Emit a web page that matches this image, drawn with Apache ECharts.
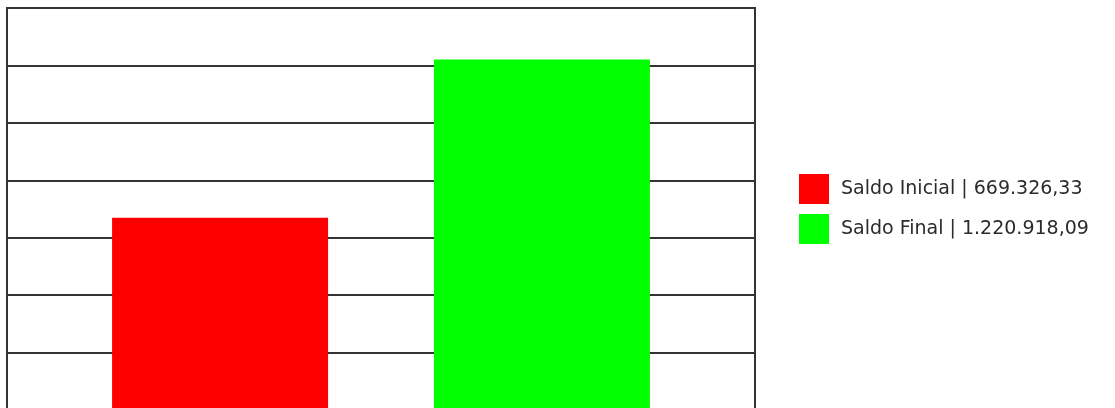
<!DOCTYPE html>
<html>
<head>
    <meta charset="utf-8">
    <title>Saldo</title>
    <script src="https://cdn.jsdelivr.net/npm/echarts@6/dist/echarts.min.js"></script>
    <style>
        html, body { margin: 0; padding: 0; background: #fff; }
        #chart { width: 1115px; height: 408px; }
    </style>
</head>
<body>
<div id="chart"></div>
<script type="text/javascript">
    // dados do gráfico
    var categorias = [''];
    var nomesSeries = ['Saldo Inicial', 'Saldo Final'];
    var saldoInicial = [669326.33];
    var saldoFinal = [1220918.09];
    var eixoMin = 0;
    var eixoMax = 1400000;
    var eixoIntervalo = 200000;

    // formata 1234567.8 -> 1.234.567,80
    function formataBR(v) {
        var partes = v.toFixed(2).split('.');
        var inteiro = partes[0].replace(/\B(?=(\d{3})+(?!\d))/g, '.');
        return inteiro + ',' + partes[1];
    }

    var valores = {};
    valores[nomesSeries[0]] = saldoInicial[0];
    valores[nomesSeries[1]] = saldoFinal[0];

    var myChart = echarts.init(document.getElementById('chart'));

    myChart.setOption({
        animation: false,
        grid: {
            left: 7,
            top: 8,
            width: 748,
            height: 402,   // o eixo zero fica fora da imagem, como no original
            outerBoundsMode: 'none',
            show: true,
            borderColor: '#333',
            borderWidth: 2,
            containLabel: false
        },
        legend: {
            orient: 'vertical',
            left: 799,
            top: 174,
            padding: 0,
            itemWidth: 30,
            itemHeight: 30,
            itemGap: 10,
            icon: 'rect',
            data: nomesSeries,
            formatter: function (name) {
                return name + ' | ' + formataBR(valores[name]);
            },
            textStyle: {
                fontFamily: 'DejaVu Sans',
                fontSize: 19,
                color: '#2b2b2b',
                padding: [0, 0, 0, 7]
            }
        },
        xAxis: {
            type: 'category',
            data: categorias,
            axisLine: { show: false },
            axisTick: { show: false },
            axisLabel: { show: false }
        },
        yAxis: {
            type: 'value',
            min: eixoMin,
            max: eixoMax,
            interval: eixoIntervalo,
            axisLine: { show: false },
            axisTick: { show: false },
            axisLabel: { show: false },
            splitLine: {
                lineStyle: { color: '#333', width: 2 }
            }
        },
        series: [
            {
                name: nomesSeries[0],
                type: 'bar',
                data: saldoInicial,
                barWidth: 216,
                barGap: '49%',
                itemStyle: { color: '#ff0000' }
            },
            {
                name: nomesSeries[1],
                type: 'bar',
                data: saldoFinal,
                barWidth: 216,
                barGap: '49%',
                itemStyle: { color: '#00ff00' }
            }
        ]
    });
</script>
</body>
</html>
